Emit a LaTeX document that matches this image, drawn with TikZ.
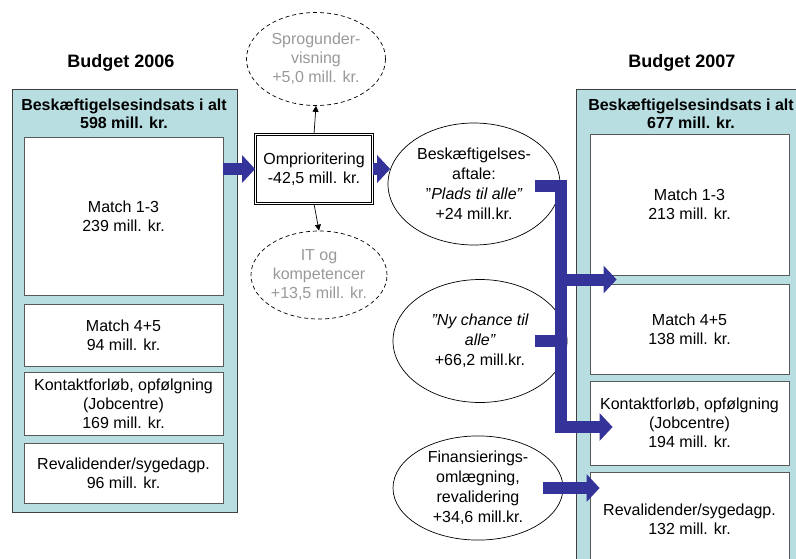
\documentclass[tikz,border=0pt]{standalone}
\usepackage{fontspec}
\setmainfont{Liberation Sans}
\usetikzlibrary{shapes.geometric, arrows.meta, calc}
\definecolor{panelblue}{RGB}{184,222,225}
\definecolor{flowblue}{RGB}{51,51,153}

\begin{document}
\begin{tikzpicture}[x=1pt, y=-1pt, line width=0.7pt,
  every node/.style={align=center, inner sep=0pt, font=\fontsize{16}{19}\selectfont},
  title/.style={font=\bfseries\fontsize{18}{21}\selectfont},
  head/.style={font=\bfseries\fontsize{16}{18}\selectfont},
  panel/.style={draw=black!75, line width=0.9pt, fill=panelblue, minimum width=225pt},
  post/.style={draw=black!65, line width=0.8pt, fill=white, minimum width=199pt},
  change/.style={ellipse, draw, fill=white, font=\fontsize{16}{20}\selectfont},
  option/.style={ellipse, draw, dash pattern=on 4pt off 3pt, text=black!40},
  feed/.style={draw=flowblue, line width=12pt, -{Triangle[length=13pt, width=27pt]}},
  pointer/.style={-{Triangle[length=6pt, width=6pt]}}]

  \useasboundingbox (0,0) rectangle (796,558);
  \clip (0,0) rectangle (796,558);

  % Budget 2006
  \node[title] (title06) at (121,63) {Budget 2006};
  \node[panel, minimum height=423pt] (old) at (124.5,300.5) {};
  \node[head] (headold) at (124,114) {Beskæftigelsesindsats i alt\\598 mill. kr.};
  \node[post, minimum height=158pt] (m13old) at (123.5,216) {Match 1-3\\239 mill. kr.};
  \node[post, minimum height=62pt] (m45old) at (123.5,335) {Match 4+5\\94 mill. kr.};
  \node[post, minimum height=63pt] (kontold) at (123.5,403.5) {Kontaktforløb, opfølgning\\(Jobcentre)\\169 mill. kr.};
  \node[post, minimum height=60pt] (revold) at (123.5,473) {Revalidender/sygedagp.\\96 mill. kr.};

  % Omprioritering
  \node[draw, line width=0.8pt, double, double distance=1.6pt, fill=white, minimum width=117pt, minimum height=69pt] (omp) at (314,169) {Omprioritering\\-42,5 mill. kr.};
  \node[option, minimum width=139pt, minimum height=93pt] (sprog) at (316,59) {Sprogunder-\\visning\\+5,0 mill. kr.};
  \node[option, minimum width=134pt, minimum height=88pt] (it) at (319,275) {IT og\\kompetencer\\+13,5 mill. kr.};

  % Changes
  \node[change, minimum width=172pt, minimum height=122pt] (aftale) at (474,184) {Beskæftigelses-\\aftale:\\”{\itshape Plads til alle”}\\+24 mill.kr.};
  \node[change, minimum width=174pt, minimum height=123pt] (chance) at (480,341) {{\itshape ”Ny chance til}\\{\itshape alle”}\\+66,2 mill.kr.};
  \node[change, minimum width=170pt, minimum height=102pt] (finans) at (478,488) {Finansierings-\\omlægning,\\revalidering\\+34,6 mill.kr.};

  % Budget 2007
  \node[title] (title07) at (682,63) {Budget 2007};
  \node[panel, minimum width=227pt, minimum height=481pt] (new) at (689.5,329.5) {};
  \node[head] (headnew) at (691,114) {Beskæftigelsesindsats i alt\\677 mill. kr.};
  \node[post, minimum height=141pt] (m13new) at (689.5,204.5) {Match 1-3\\213 mill. kr.};
  \node[post, minimum height=90pt] (m45new) at (689.5,329) {Match 4+5\\138 mill. kr.};
  \node[post, minimum height=84pt] (kontnew) at (689.5,423) {Kontaktforløb, opfølgning\\(Jobcentre)\\194 mill. kr.};
  \node[post, minimum height=94pt] (revnew) at (689.5,519) {Revalidender/sygedagp.\\132 mill. kr.};

  % Arrows
  \draw[pointer] (omp.north) -- (sprog.south);
  \draw[pointer] (omp.south) -- (it.north);
  \draw[feed] (omp.west -| m13old.east) -- (omp.west);
  \draw[feed] (omp.east) -- (omp.east -| aftale.170);

  \coordinate (bustop) at (561,186);
  \coordinate (busbot) at (561,427);
  \coordinate (gap) at ($(m13new.south west)!.5!(m45new.north west)$);
  \draw[feed] ([xshift=-25pt]aftale.east |- bustop) -- (bustop) -- (busbot) -- ([xshift=23pt]kontnew.west |- busbot);
  \draw[draw=flowblue, line width=12pt] ([xshift=-32pt]chance.east) -- (chance.east -| bustop);
  \draw[feed] (gap -| bustop) -- ([xshift=27pt]gap);
  \draw[feed] ([xshift=-20pt]finans.east) -- ([xshift=10pt]finans.east -| revnew.west);

\end{tikzpicture}
\end{document}
